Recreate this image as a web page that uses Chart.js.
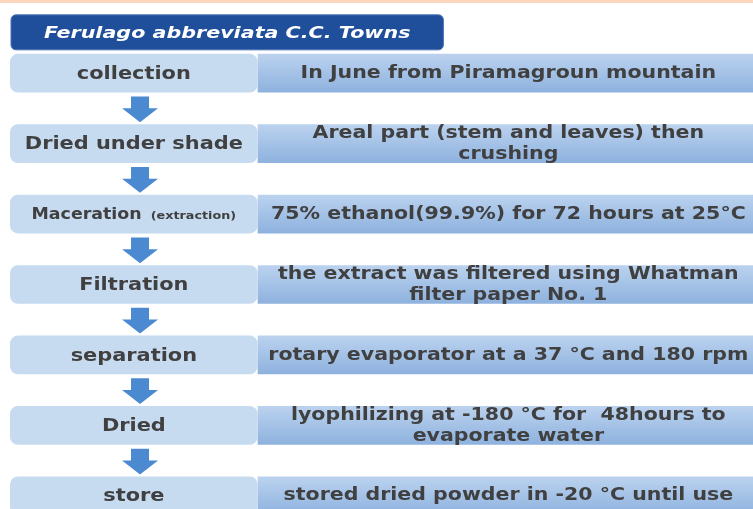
<!DOCTYPE html>
<html>
<head>
<meta charset="utf-8">
<script src="https://cdn.jsdelivr.net/npm/chart.js@4.4.0/dist/chart.umd.min.js"></script>
<style>
  html, body { margin: 0; padding: 0; background: #fff; overflow: hidden; }
  #wrap { width: 753px; height: 509px; overflow: hidden; }
</style>
</head>
<body>
<div id="wrap"><canvas id="flow" width="753" height="532"></canvas></div>
<script>
// Etapas del proceso y su descripción
const title = 'Ferulago abbreviata C.C. Towns';
const stages = ['collection', 'Dried under shade', 'Maceration (extraction)', 'Filtration', 'separation', 'Dried', 'store'];
const details = [
  'In June from Piramagroun mountain',
  'Areal part (stem and leaves) then\ncrushing',
  '75% ethanol(99.9%) for 72 hours at 25°C',
  'the extract was filtered using Whatman\nfilter paper No. 1',
  'rotary evaporator at a 37 °C and 180 rpm',
  'lyophilizing at -180 °C for  48hours to\nevaporate water',
  'stored dried powder in -20 °C until use'
];

const FONT = '"DejaVu Sans", Verdana, sans-serif';
const TEXT_COLOR = '#404040';
const STRETCH = 1.16; // el texto original está algo ensanchado

// Degradado vertical para cada caja de descripción
function detailGradient(ctx) {
  const chart = ctx.chart;
  const yScale = chart.scales.y;
  if (!yScale || !chart.chartArea) return '#a3c1e6';
  const yc = yScale.getPixelForValue(ctx.dataIndex);
  const h = 20;
  const g = chart.ctx.createLinearGradient(0, yc - h, 0, yc + h);
  g.addColorStop(0, '#bcd3ef');
  g.addColorStop(1, '#8db1de');
  return g;
}

// texto ensanchado horizontalmente (align: left o center)
function wideText(c, txt, x, y, sx, align) {
  c.save();
  c.translate(x, y);
  c.scale(sx, 1);
  c.textAlign = align;
  c.fillText(txt, 0, 0);
  c.restore();
}

function drawArrow(c, x, y1, y2) {
  const shaft = 9, head = 18, headLen = 14;
  c.beginPath();
  c.moveTo(x - shaft, y1);
  c.lineTo(x + shaft, y1);
  c.lineTo(x + shaft, y2 - headLen);
  c.lineTo(x + head, y2 - headLen);
  c.lineTo(x, y2);
  c.lineTo(x - head, y2 - headLen);
  c.lineTo(x - shaft, y2 - headLen);
  c.closePath();
  c.fill();
}

const flowPlugin = {
  id: 'flow',
  beforeDraw(chart) {
    const c = chart.ctx;
    c.save();
    // línea naranja superior
    c.fillStyle = '#fbd5bd';
    c.fillRect(0, 0, chart.width, 3);
    c.restore();
  },
  beforeDatasetsDraw(chart) {
    const c = chart.ctx;
    const first = chart.getDatasetMeta(0).data[0];
    const x = chart.scales.x;
    const top = first.y - first.height / 2;
    const bx = x.getPixelForValue(0) + 1;
    const bw = x.getPixelForValue(1.75) - bx;
    const by = top - 39, bh = 35;
    c.save();
    c.fillStyle = '#1f4f9b';
    c.beginPath();
    c.roundRect(bx, by, bw, bh, 5);
    c.fill();
    c.strokeStyle = '#4d72b4';
    c.lineWidth = 1;
    c.stroke();
    c.fillStyle = '#ffffff';
    c.font = 'italic bold 16px ' + FONT;
    c.textBaseline = 'middle';
    wideText(c, title, bx + bw / 2, by + bh / 2 + 1, 1.29, 'center');
    c.restore();
  },
  afterDatasetsDraw(chart) {
    const c = chart.ctx;
    const left = chart.getDatasetMeta(0).data;
    const right = chart.getDatasetMeta(1).data;
    c.save();
    c.fillStyle = TEXT_COLOR;
    c.textBaseline = 'middle';

    // textos de las etapas
    left.forEach((bar, i) => {
      const cx = (bar.base + bar.x) / 2;
      const label = stages[i];
      const p = label.indexOf(' (');
      const main = p >= 0 ? label.slice(0, p) : label;
      const extra = p >= 0 ? label.slice(p + 1) : '';
      const mainFont = 'bold ' + (extra ? 15 : 18) + 'px ' + FONT;
      const smallFont = 'bold 11px ' + FONT;
      c.font = mainFont;
      const w1 = c.measureText(main).width * STRETCH;
      c.font = smallFont;
      const gap = 9;
      const w2 = extra ? c.measureText(extra).width * STRETCH + gap : 0;
      const sx = cx - (w1 + w2) / 2;
      c.font = mainFont;
      wideText(c, main, sx, bar.y + 1, STRETCH, 'left');
      if (extra) {
        c.font = smallFont;
        wideText(c, extra, sx + w1 + gap, bar.y + 2, STRETCH, 'left');
      }
    });

    // textos de las descripciones
    c.font = 'bold 18px ' + FONT;
    right.forEach((bar, i) => {
      const cx = (bar.base + bar.x) / 2 + 3;
      const lines = details[i].split('\n');
      const lh = 21;
      const y0 = bar.y - (lines.length - 1) * lh / 2;
      lines.forEach((ln, k) => wideText(c, ln, cx, y0 + k * lh, STRETCH - 0.02, 'center'));
    });

    // flechas entre etapas
    c.fillStyle = '#4b8ad0';
    const ax = chart.scales.x.getPixelForValue(0.525);
    for (let i = 0; i < left.length - 1; i++) {
      const a = left[i], b = left[i + 1];
      const y1 = a.y + a.height / 2 + 4;
      const y2 = b.y - b.height / 2 - 2;
      drawArrow(c, ax, y1, y2);
    }
    c.restore();
  }
};

new Chart(document.getElementById('flow'), {
  type: 'bar',
  data: {
    labels: stages,
    datasets: [
      {
        label: 'stage',
        data: stages.map(() => [0, 1]),
        backgroundColor: '#c6daf0',
        borderRadius: 8,
        borderSkipped: false
      },
      {
        label: 'detail',
        data: stages.map(() => [1, 3]),
        backgroundColor: detailGradient,
        borderRadius: 0,
        borderSkipped: false
      }
    ]
  },
  options: {
    indexAxis: 'y',
    responsive: false,
    animation: false,
    devicePixelRatio: 1,
    layout: { padding: { top: 38, left: 10, right: 0, bottom: 1 } },
    datasets: { bar: { grouped: false, barPercentage: 0.55, categoryPercentage: 1 } },
    scales: {
      x: { type: 'linear', min: 0, max: 3, display: false },
      y: { type: 'category', display: false, offset: true }
    },
    plugins: {
      legend: { display: false },
      tooltip: { enabled: false },
      title: { display: false }
    }
  },
  plugins: [flowPlugin]
});
</script>
</body>
</html>
